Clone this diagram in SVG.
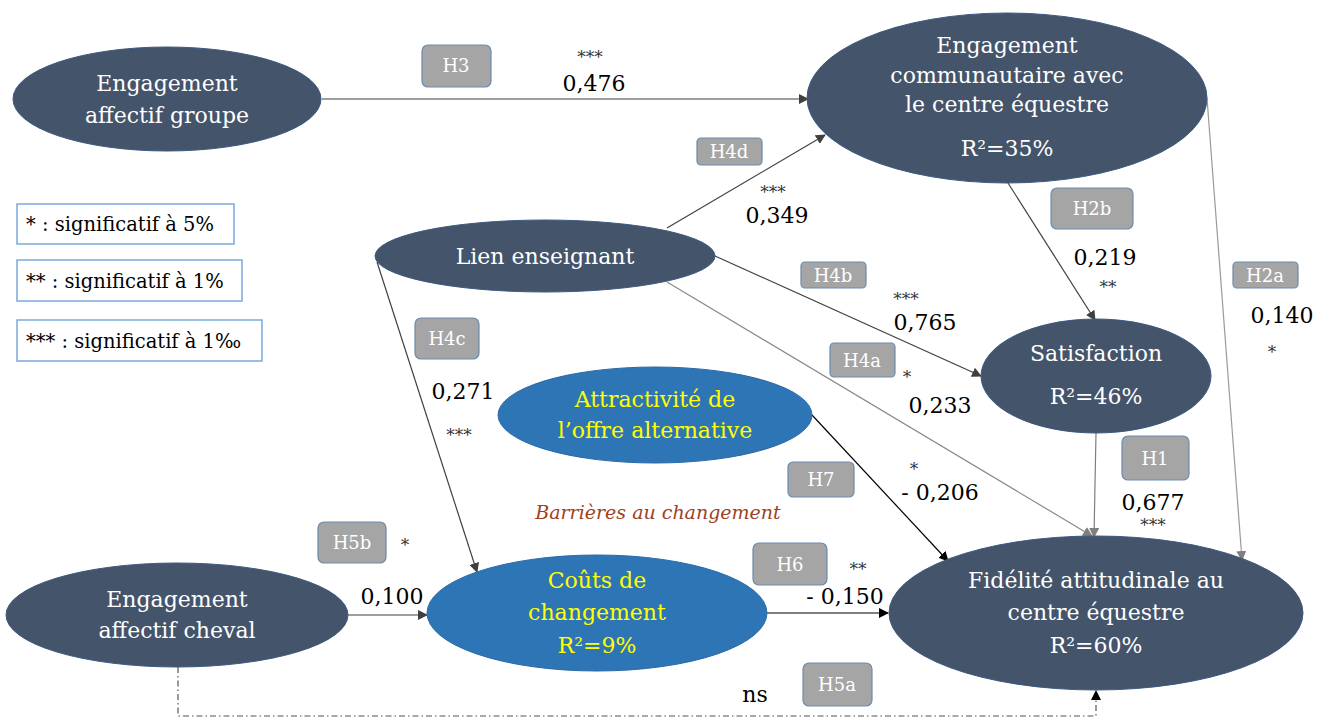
<svg xmlns="http://www.w3.org/2000/svg" width="1330" height="720" viewBox="0 0 1330 720">
<style>
.dk{fill:#44546a;stroke:#3d5a80;stroke-width:1}
.bl{fill:#2e75b6;stroke:#2a6aa6;stroke-width:1}
.nt{font-family:"DejaVu Serif","Liberation Serif",serif;font-size:22px;fill:#ffffff;text-anchor:middle}
.yt{font-family:"DejaVu Serif","Liberation Serif",serif;font-size:22px;fill:#ffff00;text-anchor:middle}
.lb rect{fill:#a5a5a5;stroke:#6a8caf;stroke-width:1.2}
.lb text{font-family:"DejaVu Serif","Liberation Serif",serif;font-size:18px;fill:#ffffff;text-anchor:middle}
.v{font-family:"DejaVu Serif","Liberation Serif",serif;font-size:22px;fill:#000000;text-anchor:middle}
.s{font-family:"DejaVu Serif","Liberation Serif",serif;font-size:17px;fill:#333333;text-anchor:middle}
.lg rect{fill:#ffffff;stroke:#7aa9dc;stroke-width:1.5}
.lg text{font-family:"DejaVu Serif","Liberation Serif",serif;font-size:19.5px;fill:#000000}
.c{fill:none;stroke-width:1.2}
</style>
<defs>
<marker id="ad" viewBox="0 0 10 10" refX="9" refY="5" markerWidth="10" markerHeight="10" markerUnits="userSpaceOnUse" orient="auto"><path d="M0,0 L10,5 L0,10 z" fill="#404040"/></marker>
<marker id="ab" viewBox="0 0 10 10" refX="9" refY="5" markerWidth="10" markerHeight="10" markerUnits="userSpaceOnUse" orient="auto"><path d="M0,0 L10,5 L0,10 z" fill="#000000"/></marker>
<marker id="ag" viewBox="0 0 10 10" refX="9" refY="5" markerWidth="10" markerHeight="10" markerUnits="userSpaceOnUse" orient="auto"><path d="M0,0 L10,5 L0,10 z" fill="#7f7f7f"/></marker>
</defs>

<g id="connectors">
<line class="c" stroke="#404040" x1="322" y1="99" x2="808" y2="99" marker-end="url(#ad)"/>
<line class="c" stroke="#404040" x1="667" y1="228" x2="825" y2="135" marker-end="url(#ad)"/>
<line class="c" stroke="#404040" x1="715" y1="256" x2="981" y2="376" marker-end="url(#ad)"/>
<line class="c" stroke="#8a8a8a" x1="667" y1="282" x2="1092" y2="536" marker-end="url(#ag)"/>
<line class="c" stroke="#404040" x1="377" y1="262" x2="477" y2="572" marker-end="url(#ad)"/>
<line class="c" stroke="#404040" x1="1008" y1="183" x2="1095" y2="320" marker-end="url(#ad)"/>
<line class="c" stroke="#9a9a9a" x1="1207" y1="98" x2="1242" y2="560" marker-end="url(#ag)"/>
<line class="c" stroke="#7f7f7f" x1="1096" y1="433" x2="1094" y2="537" marker-end="url(#ag)"/>
<line class="c" stroke="#000000" x1="812" y1="415" x2="948" y2="561" marker-end="url(#ab)"/>
<line class="c" stroke="#404040" x1="348" y1="615" x2="427" y2="615" marker-end="url(#ad)"/>
<line class="c" stroke="#000000" x1="767" y1="613" x2="888" y2="613" marker-end="url(#ab)"/>
<path class="c" stroke="#555555" stroke-dasharray="6,3,1.5,3" d="M178,667 L178,716 L1096,716 L1096,691" marker-end="url(#ab)"/>
</g>

<g id="n-groupe"><ellipse class="dk" cx="167" cy="99" rx="154" ry="52"/><text class="nt" x="167" y="91">Engagement</text><text class="nt" x="167" y="123">affectif groupe</text></g>
<g id="n-communautaire"><ellipse class="dk" cx="1007" cy="98" rx="200" ry="85"/><text class="nt" x="1007" y="53">Engagement</text><text class="nt" x="1007" y="83">communautaire avec</text><text class="nt" x="1007" y="112">le centre équestre</text><text class="nt" x="1007" y="156">R²=35%</text></g>
<g id="n-lien"><ellipse class="dk" cx="545" cy="256" rx="170" ry="36"/><text class="nt" x="545" y="264">Lien enseignant</text></g>
<g id="n-satisfaction"><ellipse class="dk" cx="1096" cy="376" rx="115" ry="57"/><text class="nt" x="1096" y="361">Satisfaction</text><text class="nt" x="1096" y="404">R²=46%</text></g>
<g id="n-attractivite"><ellipse class="bl" cx="655" cy="415" rx="157" ry="48"/><text class="yt" x="655" y="407">Attractivité de</text><text class="yt" x="655" y="438">l’offre alternative</text></g>
<g id="n-cheval"><ellipse class="dk" cx="177" cy="615" rx="171" ry="52"/><text class="nt" x="177" y="607">Engagement</text><text class="nt" x="177" y="638">affectif cheval</text></g>
<g id="n-couts"><ellipse class="bl" cx="597" cy="613" rx="170" ry="58"/><text class="yt" x="597" y="588">Coûts de</text><text class="yt" x="597" y="620">changement</text><text class="yt" x="597" y="653">R²=9%</text></g>
<g id="n-fidelite"><ellipse class="dk" cx="1096" cy="613" rx="207" ry="77"/><text class="nt" x="1096" y="588">Fidélité attitudinale au</text><text class="nt" x="1096" y="620">centre équestre</text><text class="nt" x="1096" y="653">R²=60%</text></g>

<g id="legend" class="lg">
<rect x="17" y="204" width="217" height="40"/><text x="26" y="231">* : significatif à 5%</text>
<rect x="17" y="260" width="225" height="41"/><text x="26" y="288">** : significatif à 1%</text>
<rect x="17" y="320" width="245" height="41"/><text x="26" y="348">*** : significatif à 1‰</text>
</g>

<g id="labels" class="lb">
<rect x="422" y="45" width="69" height="42" rx="6"/><text x="456" y="72">H3</text>
<rect x="697" y="138" width="65" height="27" rx="4"/><text x="729" y="158">H4d</text>
<rect x="1051" y="188" width="82" height="41" rx="6"/><text x="1092" y="215">H2b</text>
<rect x="1233" y="262" width="65" height="26" rx="4"/><text x="1265" y="282">H2a</text>
<rect x="801" y="262" width="65" height="26" rx="4"/><text x="833" y="282">H4b</text>
<rect x="415" y="318" width="64" height="41" rx="6"/><text x="447" y="345">H4c</text>
<rect x="830" y="343" width="65" height="34" rx="4"/><text x="862" y="367">H4a</text>
<rect x="788" y="462" width="66" height="35" rx="5"/><text x="821" y="486">H7</text>
<rect x="1122" y="436" width="67" height="44" rx="6"/><text x="1155" y="465">H1</text>
<rect x="318" y="522" width="68" height="41" rx="6"/><text x="352" y="549">H5b</text>
<rect x="753" y="543" width="74" height="42" rx="6"/><text x="790" y="571">H6</text>
<rect x="803" y="663" width="69" height="43" rx="6"/><text x="837" y="691">H5a</text>
</g>

<g id="values">
<text class="s" x="590" y="63">***</text><text class="v" x="594" y="91">0,476</text>
<text class="s" x="773" y="198">***</text><text class="v" x="777" y="223">0,349</text>
<text class="v" x="1105" y="265">0,219</text><text class="s" x="1108" y="293">**</text>
<text class="v" x="1282" y="323">0,140</text><text class="s" x="1272" y="358">*</text>
<text class="s" x="906" y="305">***</text><text class="v" x="925" y="330">0,765</text>
<text class="s" x="907" y="383">*</text><text class="v" x="940" y="413">0,233</text>
<text class="v" x="463" y="399">0,271</text><text class="s" x="459" y="441">***</text>
<text class="s" x="914" y="475">*</text><text class="v" x="940" y="500">- 0,206</text>
<text class="v" x="1153" y="510">0,677</text><text class="s" x="1153" y="531">***</text>
<text class="s" x="405" y="551">*</text><text class="v" x="392" y="604">0,100</text>
<text class="s" x="858" y="575">**</text><text class="v" x="845" y="604">- 0,150</text>
<text class="v" x="755" y="702">ns</text>
<text x="658" y="519" font-family="'DejaVu Serif','Liberation Serif',serif" font-size="19" font-style="italic" fill="#a0401e" text-anchor="middle">Barrières au changement</text>
</g>
</svg>
